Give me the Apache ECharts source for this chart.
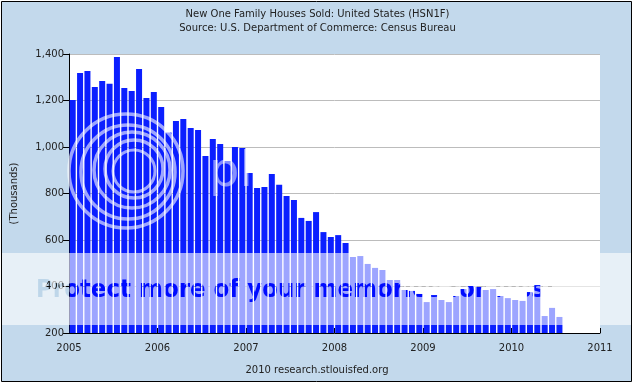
<!DOCTYPE html>
<html>
<head>
<meta charset="utf-8">
<script src="https://cdn.jsdelivr.net/npm/echarts@6/dist/echarts.min.js"></script>
<style>
html,body{margin:0;padding:0;background:#ffffff;}
#chart{width:635px;height:385px;}
</style>
</head>
<body>
<div id="chart"></div>
<script>
// ---- data ----
const years = [2005, 2006, 2007, 2008, 2009, 2010];
const monthNames = ['Jan','Feb','Mar','Apr','May','Jun','Jul','Aug','Sep','Oct','Nov','Dec'];
// New one family houses sold, thousands (SAAR), Jan 2005 .. Jul 2010
const salesThousands = [
  1202, 1318, 1327, 1258, 1284, 1272, 1387, 1254, 1241, 1335, 1211, 1237,
  1172, 1062, 1112, 1120, 1082, 1073,  961, 1034, 1013,  940, 1000,  996,
   888,  824,  828,  884,  838,  789,  772,  695,  682,  720,  634,  613,
   621,  587,  527,  531,  497,  480,  471,  428,  428,  385,  381,  368,
   333,  363,  342,  333,  359,  389,  402,  398,  385,  389,  359,  350,
   342,  338,  376,  406,  273,  308,  269
];
const yearTicks = [2005, 2011];       // x axis range (years)
const valueTicks = [200, 1400, 200];  // y min, max, step

const monthCategories = [];
years.forEach(y => monthNames.forEach(m => monthCategories.push(m + ' ' + y)));

const chart = echarts.init(document.getElementById('chart'), null, {renderer: 'canvas'});
const txt = '#222222';
const fam = 'DejaVu Sans';
const WATERMARK = 'Protect more of your memories for less!';

const option = {
  backgroundColor: '#ffffff',
  animation: false,
  title: {
    text: 'New One Family Houses Sold: United States (HSN1F)',
    subtext: 'Source: U.S. Department of Commerce: Census Bureau',
    left: 'center',
    top: 4,
    itemGap: 4,
    textStyle: {fontSize: 10, fontWeight: 'normal', color: txt, fontFamily: fam},
    subtextStyle: {fontSize: 10, color: txt, fontFamily: fam}
  },
  grid: {
    left: 69, right: 35, top: 54, bottom: 52,
    show: true, backgroundColor: '#ffffff', borderWidth: 0,
    containLabel: false
  },
  xAxis: [
    {
      type: 'category',
      data: monthCategories,
      boundaryGap: true,
      show: false
    },
    {
      type: 'value',
      position: 'bottom',
      min: yearTicks[0], max: yearTicks[1], interval: 1,
      axisLine: {show: true, onZero: false, lineStyle: {color: '#000', width: 1}},
      axisTick: {show: true, inside: true, length: 5, lineStyle: {color: '#000'}},
      axisLabel: {show: true, margin: 10, fontSize: 10, color: txt, fontFamily: fam,
                  formatter: v => String(v)},
      splitLine: {show: false}
    }
  ],
  yAxis: {
    type: 'value',
    min: valueTicks[0], max: valueTicks[1], interval: valueTicks[2],
    name: '(Thousands)',
    nameLocation: 'middle',
    nameGap: 50,
    nameTextStyle: {fontSize: 10, color: txt, fontFamily: fam},
    axisLine: {show: true, lineStyle: {color: '#000', width: 1}},
    axisTick: {show: true, inside: false, length: 6, lineStyle: {color: '#000'}},
    axisLabel: {show: true, margin: 5, fontSize: 10, color: txt, fontFamily: fam},
    splitLine: {show: true, lineStyle: {color: '#bcbcbc', width: 1}}
  },
  series: [{
    type: 'bar',
    xAxisIndex: 0,
    data: salesThousands,
    barWidth: 6,
    itemStyle: {color: '#0b1fff'},
    z: 2
  }],
  graphic: [
    // light blue page with black frame
    {type: 'rect', z: -5, silent: true,
     shape: {x: 1.5, y: 1.5, width: 630, height: 380},
     style: {fill: '#c3d9ec', stroke: '#000', lineWidth: 1}},
    // footer
    {type: 'text', z: 5, silent: true,
     style: {text: '2010 research.stlouisfed.org', x: 317, y: 370,
             textAlign: 'center', textVerticalAlign: 'middle',
             fontSize: 10, fontFamily: fam, fill: txt}},
    // watermark logo rings
    {type: 'circle', z: 50, silent: true, shape: {cx: 126, cy: 171, r: 57},
     style: {fill: 'none', stroke: 'rgba(255,255,255,0.6)', lineWidth: 3.5}},
    {type: 'circle', z: 50, silent: true, shape: {cx: 128, cy: 172, r: 47},
     style: {fill: 'none', stroke: 'rgba(255,255,255,0.6)', lineWidth: 3.5}},
    {type: 'circle', z: 50, silent: true, shape: {cx: 132, cy: 170, r: 38},
     style: {fill: 'none', stroke: 'rgba(255,255,255,0.6)', lineWidth: 3.5}},
    {type: 'circle', z: 50, silent: true, shape: {cx: 134, cy: 169, r: 29},
     style: {fill: 'none', stroke: 'rgba(255,255,255,0.6)', lineWidth: 3.5}},
    {type: 'circle', z: 50, silent: true, shape: {cx: 134, cy: 171, r: 21},
     style: {fill: 'none', stroke: 'rgba(255,255,255,0.6)', lineWidth: 3}},
    {type: 'text', z: 50, silent: true,
     style: {text: 'pl', x: 209, y: 150, textVerticalAlign: 'top',
             fontSize: 48, fontFamily: fam, fill: 'rgba(255,255,255,0.5)'}},
    // watermark band
    {type: 'rect', z: 60, silent: true,
     shape: {x: 2, y: 253, width: 629, height: 72},
     style: {fill: 'rgba(255,255,255,0.6)'}},
    // watermark text (undoes the band where letters are)
    {type: 'text', z: 61, silent: true,
     style: {text: WATERMARK, x: 36, y: 290,
             textVerticalAlign: 'middle', fontSize: 25.5, fontWeight: 'bold',
             fontFamily: 'DejaVu Sans Condensed, DejaVu Sans', fill: '#5e5e5e', blend: 'color-burn'}}
  ]
};
chart.setOption(option);

// make the watermark letters act as a "hole" in the light band (colour-burn undoes the white veil)
const zr = chart.getZr();
function applyBlend() {
  const list = zr.storage.getDisplayList(true);
  list.forEach(el => {
    if (el.style && typeof el.style.text === 'string' && el.style.text.indexOf('Protect') === 0) {
      el.style.blend = 'color-burn';
      el.markRedraw && el.markRedraw();
    }
  });
  zr.refreshImmediately();
}
applyBlend();
chart.on('finished', applyBlend);
</script>
</body>
</html>
